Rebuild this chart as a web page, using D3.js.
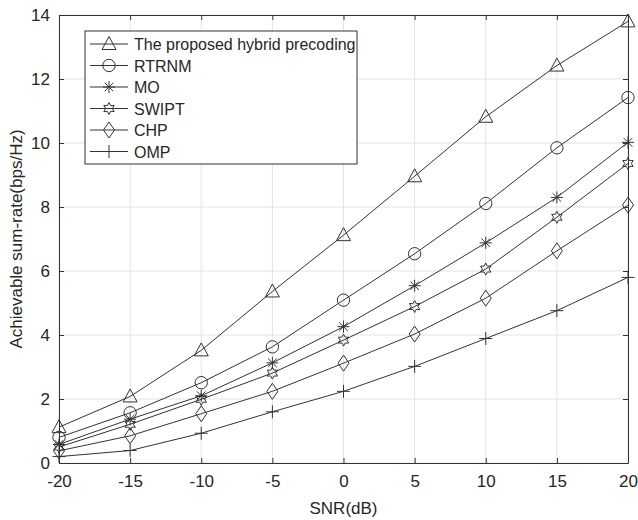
<!DOCTYPE html>
<html>
<head>
<meta charset="utf-8">
<script src="https://cdn.jsdelivr.net/npm/d3@7"></script>
<style>
body{margin:0;background:#fff;}
svg text{font-family:"Liberation Sans",Arial,sans-serif;fill:#262626;}
</style>
</head>
<body>
<div id="chart"></div>
<script>
const snr = [-20,-15,-10,-5,0,5,10,15,20];
const proposed = [1.12,2.08,3.52,5.36,7.12,8.96,10.82,12.42,13.8];
const rtrnm = [0.8,1.57,2.51,3.63,5.09,6.54,8.11,9.85,11.42];
const mo = [0.58,1.37,2.1,3.13,4.26,5.54,6.88,8.3,10.02];
const swipt = [0.5,1.21,1.99,2.81,3.84,4.89,6.06,7.68,9.36];
const chp = [0.38,0.85,1.54,2.24,3.12,4.03,5.15,6.63,8.06];
const omp = [0.2,0.39,0.93,1.6,2.24,3.02,3.89,4.76,5.8];
const names = ["The proposed hybrid precoding","RTRNM","MO","SWIPT","CHP","OMP"];
const markers = ["triangle","circle","star","hexagram","diamond","plus"];
const series = [proposed,rtrnm,mo,swipt,chp,omp];
const yTicks = [0,2,4,6,8,10,12,14];

const W = 638, H = 520;
const m = {l:59,r:10,t:15,b:57};
const svg = d3.select("#chart").append("svg").attr("width",W).attr("height",H);

const x = d3.scaleLinear().domain([-20,20]).range([m.l,W-m.r]);
const y = d3.scaleLinear().domain([0,14]).range([H-m.b,m.t]);
const ink = "#333";

// grid
svg.append("g").selectAll("line").data(snr).enter().append("line")
  .attr("x1",d=>x(d)).attr("x2",d=>x(d)).attr("y1",y(0)).attr("y2",y(14))
  .attr("stroke","#e3e3e3").attr("stroke-width",1);
svg.append("g").selectAll("line").data(yTicks).enter().append("line")
  .attr("x1",x(-20)).attr("x2",x(20)).attr("y1",d=>y(d)).attr("y2",d=>y(d))
  .attr("stroke","#e3e3e3").attr("stroke-width",1);

// axes (ticks inward, box)
const axB = d3.axisBottom(x).tickValues(snr).tickFormat(d=>String(d)).tickSizeInner(-5).tickSizeOuter(0).tickPadding(12);
const axL = d3.axisLeft(y).tickValues(yTicks).tickFormat(d=>String(d)).tickSizeInner(-5).tickSizeOuter(0).tickPadding(9);
const axT = d3.axisTop(x).tickValues(snr).tickSizeInner(-5).tickSizeOuter(0).tickFormat("");
const axR = d3.axisRight(y).tickValues(yTicks).tickSizeInner(-5).tickSizeOuter(0).tickFormat("");
[[axB,"translate(0,"+y(0)+")"],[axL,"translate("+x(-20)+",0)"],[axT,"translate(0,"+y(14)+")"],[axR,"translate("+x(20)+",0)"]]
  .forEach(([a,t])=>{
    const g = svg.append("g").attr("transform",t).call(a);
    g.select(".domain").attr("stroke",ink).attr("stroke-width",1);
    g.selectAll(".tick line").attr("stroke",ink);
    g.selectAll("text").style("font-size","17px").attr("fill","#262626");
  });

svg.append("text").attr("x",x(0)).attr("y",514).attr("text-anchor","middle")
  .style("font-size","17px").text("SNR(dB)");
svg.append("text").attr("transform","translate(22,"+y(7)+") rotate(-90)")
  .attr("text-anchor","middle").style("font-size","17px").text("Achievable sum-rate(bps/Hz)");

// six-pointed star outline
const hexPts = d3.range(12).map(i=>{
  const a = -Math.PI/2 + i*Math.PI/6, r = i%2 ? 3.3 : 6;
  return [r*Math.cos(a), r*Math.sin(a)];
});
const hexPath = "M"+hexPts.map(p=>p[0].toFixed(2)+","+p[1].toFixed(2)).join("L")+"Z";

function marker(g,type){
  const s = g.append("path").attr("fill","none").attr("stroke",ink).attr("stroke-width",1);
  if(type==="triangle") s.attr("d","M0,-7.5L7,5.5L-7,5.5Z");
  if(type==="circle") s.attr("d",d3.symbol(d3.symbolCircle,120)());
  if(type==="star") s.attr("d","M-6,0H6M0,-6V6M-4.3,-4.3L4.3,4.3M-4.3,4.3L4.3,-4.3");
  if(type==="hexagram") s.attr("d",hexPath);
  if(type==="diamond") s.attr("d","M0,-8L5.5,0L0,8L-5.5,0Z");
  if(type==="plus") s.attr("d","M-6.5,0H6.5M0,-6.5V6.5");
}

const line = d3.line().x((d,i)=>x(snr[i])).y(d=>y(d));
series.forEach((vals,k)=>{
  svg.append("path").datum(vals).attr("d",line).attr("fill","none")
    .attr("stroke",ink).attr("stroke-width",1);
  vals.forEach((v,i)=>{
    const g = svg.append("g").attr("transform","translate("+x(snr[i])+","+y(v)+")");
    marker(g,markers[k]);
  });
});

// legend
const lg = svg.append("g").attr("transform","translate(85,31)");
lg.append("rect").attr("width",272).attr("height",133).attr("fill","#fff")
  .attr("stroke",ink).attr("stroke-width",1);
names.forEach((n,i)=>{
  const row = lg.append("g").attr("transform","translate(0,"+(13+i*21.5)+")");
  row.append("line").attr("x1",5).attr("x2",43).attr("stroke",ink);
  marker(row.append("g").attr("transform","translate(24,0)"),markers[i]);
  row.append("text").attr("x",49).attr("y",6).style("font-size","16px").text(n);
});
</script>
</body>
</html>
